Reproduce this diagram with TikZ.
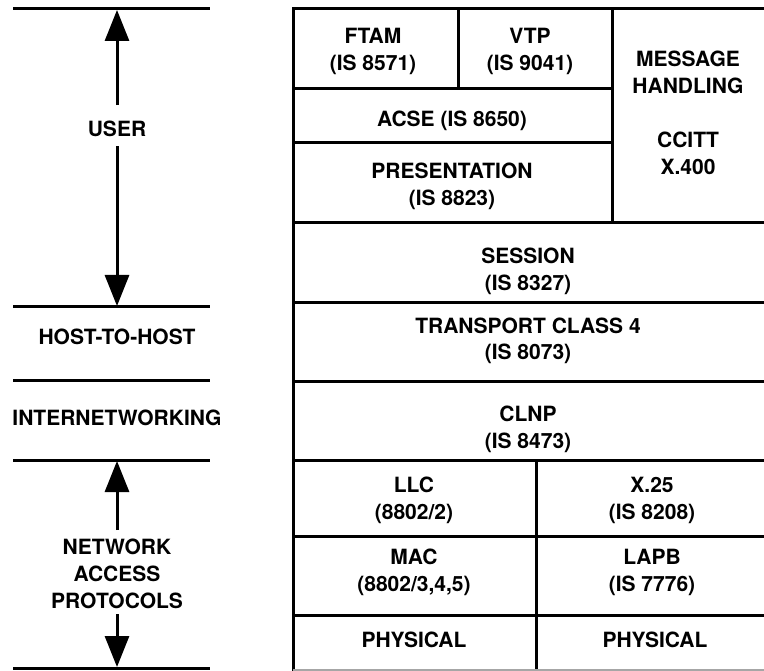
\documentclass[tikz,border=0pt]{standalone}
\usepackage{fontspec}
\setmainfont{TeX Gyre Heros}
\usetikzlibrary{arrows.meta}
\begin{document}
\begin{tikzpicture}[x=1pt,y=-1pt,
  rule/.style={line width=3pt},
  grid/.style={line width=3pt, line cap=rect},
  % node base = baseline of the last text line
  lbl/.style={font=\bfseries\fontsize{21}{27}\selectfont, align=center, inner sep=0pt, anchor=base},
  arr/.style={line width=3pt, -{Triangle[length=31pt,width=24pt]}},
]
\useasboundingbox (0,0) rectangle (764,671);

% left-hand band rules
\foreach \y in {9,307,381,460,668} \draw[rule] (13,\y) -- (210,\y);

% protocol stack grid
\draw[grid] (764,9) -- (293,9) -- (293,669);
\draw[grid] (293,89) -- (612,89);
\draw[grid] (293,143) -- (612,143);
\foreach \y in {223,303,382,460,536,615} \draw[grid] (293,\y) -- (764,\y);
\draw[grid] (458,9) -- (458,89);
\draw[grid] (612,9) -- (612,223);
\draw[grid] (536,460) -- (536,669);
\draw[line width=2pt, black!35] (293,669.5) -- (764,669.5);

% stack entries
\node[lbl] (ftam)  at (373,71)  {FTAM\\(IS 8571)};
\node[lbl] (vtp)   at (530,71)  {VTP\\(IS 9041)};
\node[lbl] (mhs)   at (688,94)  {MESSAGE\\HANDLING};
\node[lbl] (ccitt) at (688,175) {CCITT\\X.400};
\node[lbl] (acse)  at (452,127) {ACSE (IS 8650)};
\node[lbl] (pres)  at (452,206) {PRESENTATION\\(IS 8823)};
\node[lbl] (sess)  at (528,291) {SESSION\\(IS 8327)};
\node[lbl] (trans) at (528,360) {TRANSPORT CLASS 4\\(IS 8073)};
\node[lbl] (clnp)  at (528,448) {CLNP\\(IS 8473)};
\node[lbl] (llc)   at (414,519) {LLC\\(8802/2)};
\node[lbl] (x25)   at (652,519) {X.25\\(IS 8208)};
\node[lbl] (mac)   at (414,591) {MAC\\(8802/3,4,5)};
\node[lbl] (lapb)  at (652,591) {LAPB\\(IS 7776)};
\node[lbl] (phya)  at (414,647) {PHYSICAL};
\node[lbl] (phyb)  at (655,647) {PHYSICAL};

% band labels
\node[lbl] (user) at (117,137) {USER};
\node[lbl] (h2h)  at (117,345) {HOST-TO-HOST};
\node[lbl] (inet) at (117,425) {INTERNETWORKING};
\node[lbl] (nap)  at (117,608) {NETWORK\\ACCESS\\PROTOCOLS};

% extent arrows
\coordinate (utop) at (117,10);
\coordinate (ubot) at (117,306);
\coordinate (ntop) at (117,461);
\coordinate (nbot) at (117,667);
\draw[arr, shorten <=16pt] (user.north) -- (utop);
\draw[arr, shorten <=9pt]  (user.south) -- (ubot);
\draw[arr, shorten <=8pt]  (nap.north) -- (ntop);
\draw[arr, shorten <=6pt]  (nap.south) -- (nbot);
\end{tikzpicture}
\end{document}
